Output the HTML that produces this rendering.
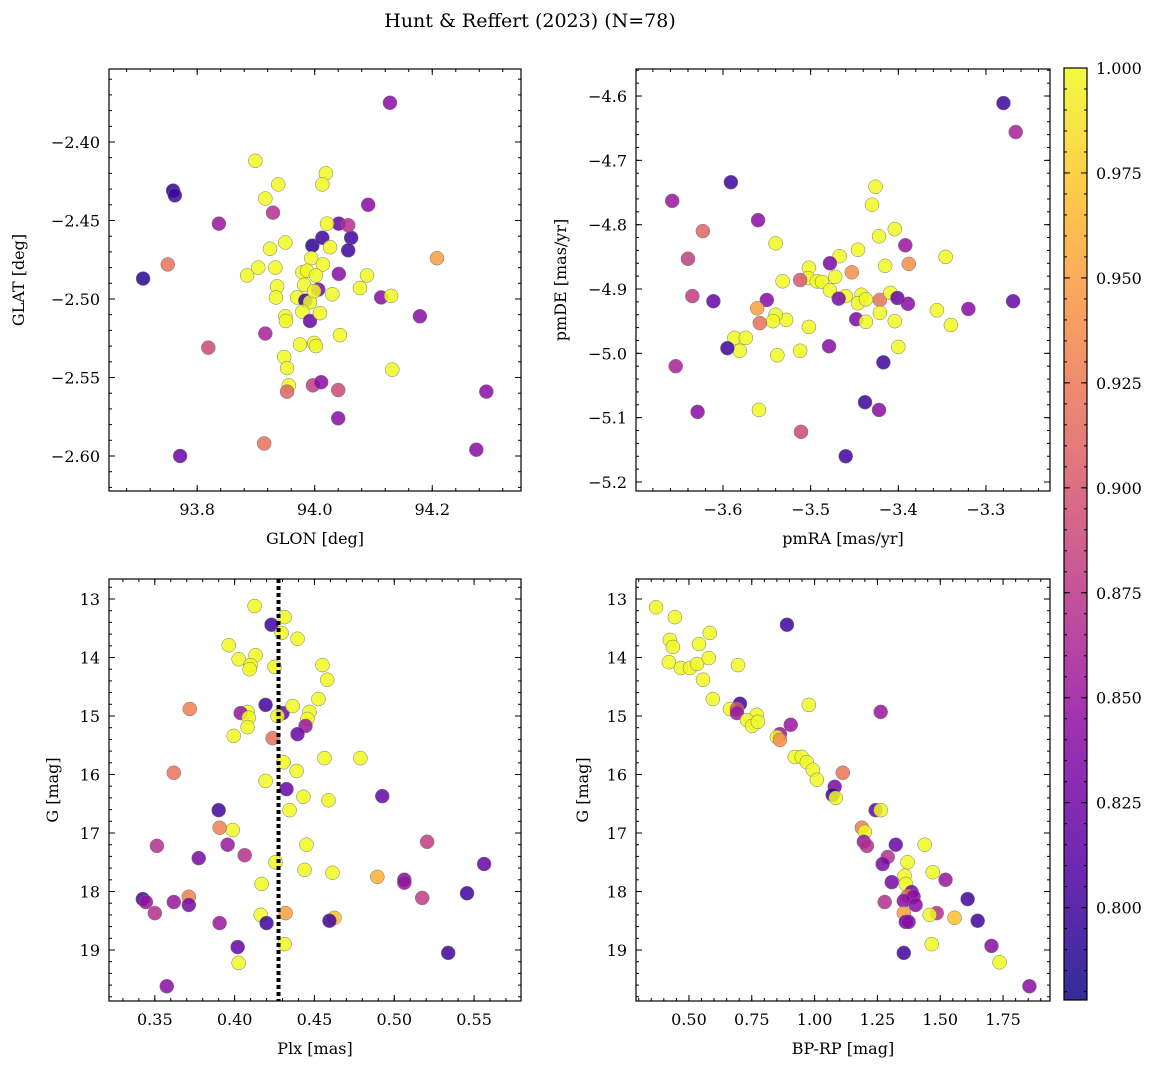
<!DOCTYPE html>
<html><head><meta charset="utf-8"><style>
html,body{margin:0;padding:0;background:#fff;}
svg{display:block;font-family:"DejaVu Serif","Liberation Serif",serif;}
</style></head><body>
<svg id="fig" width="1161" height="1068" viewBox="0 0 1161 1068" xmlns="http://www.w3.org/2000/svg">
<text x="530" y="27" font-size="19" text-anchor="middle">Hunt &amp; Reffert (2023) (N=78)</text>
</svg>
<script>
// ---- Panel 1: GLON / GLAT ----
const glonVals=[94.128,93.899,93.759,93.762,94.019,93.916,93.938,94.013,93.837,93.929,94.091,94.041,94.021,93.996,94.013,94.062,94.057,93.950,93.924,93.708,93.750,93.885,93.904,93.933,93.994,94.014,94.026,94.057,94.089,94.041,94.208,93.979,93.987,94.002,93.936,93.934,93.982,94.006,93.970,93.984,93.992,93.999,94.030,94.077,94.113,94.130,94.179,93.950,93.951,93.979,93.992,94.009,93.916,93.975,93.999,94.002,94.043,93.819,93.948,93.953,93.956,93.953,93.997,94.011,94.040,94.132,93.914,94.040,93.771,94.275,94.292];
const glatVals=[-2.375,-2.412,-2.431,-2.434,-2.420,-2.436,-2.427,-2.427,-2.452,-2.445,-2.440,-2.452,-2.452,-2.466,-2.461,-2.461,-2.469,-2.464,-2.468,-2.487,-2.478,-2.485,-2.480,-2.480,-2.474,-2.478,-2.467,-2.453,-2.485,-2.484,-2.474,-2.483,-2.482,-2.485,-2.492,-2.499,-2.491,-2.494,-2.499,-2.501,-2.502,-2.495,-2.497,-2.493,-2.499,-2.498,-2.511,-2.511,-2.514,-2.508,-2.514,-2.509,-2.522,-2.529,-2.528,-2.530,-2.523,-2.531,-2.537,-2.544,-2.555,-2.559,-2.555,-2.553,-2.558,-2.545,-2.592,-2.576,-2.600,-2.596,-2.559];
const probP1=[0.84,1,0.79,0.80,1,1,1,1,0.85,0.87,0.84,0.82,1,0.79,0.80,0.80,0.80,1,1,0.79,0.92,1,1,1,1,1,1,0.87,1,0.84,0.95,1,1,1,1,1,1,0.83,1,0.80,1,1,1,1,0.84,1,0.84,1,1,1,0.82,1,0.86,1,1,1,1,0.89,1,1,1,0.91,0.88,0.84,0.89,1,0.92,0.84,0.82,0.84,0.84];
// ---- Panel 2: pmRA / pmDE ----
const pmraVals=[-3.280,-3.266,-3.658,-3.591,-3.560,-3.623,-3.540,-3.426,-3.430,-3.404,-3.422,-3.446,-3.392,-3.346,-3.467,-3.478,-3.640,-3.415,-3.388,-3.502,-3.472,-3.453,-3.503,-3.532,-3.512,-3.493,-3.487,-3.635,-3.611,-3.550,-3.478,-3.460,-3.442,-3.421,-3.409,-3.401,-3.389,-3.446,-3.437,-3.468,-3.561,-3.528,-3.540,-3.543,-3.558,-3.502,-3.448,-3.437,-3.421,-3.404,-3.356,-3.340,-3.320,-3.269,-3.587,-3.574,-3.581,-3.595,-3.512,-3.538,-3.479,-3.400,-3.654,-3.417,-3.559,-3.629,-3.438,-3.422,-3.511,-3.460];
const pmdeVals=[-4.611,-4.656,-4.763,-4.734,-4.793,-4.810,-4.829,-4.741,-4.769,-4.807,-4.818,-4.839,-4.832,-4.850,-4.849,-4.860,-4.853,-4.864,-4.861,-4.867,-4.881,-4.874,-4.883,-4.888,-4.886,-4.888,-4.889,-4.911,-4.919,-4.917,-4.902,-4.911,-4.909,-4.917,-4.906,-4.914,-4.923,-4.922,-4.916,-4.915,-4.930,-4.948,-4.940,-4.950,-4.953,-4.959,-4.947,-4.951,-4.937,-4.950,-4.933,-4.956,-4.931,-4.919,-4.976,-4.976,-4.996,-4.992,-4.996,-5.003,-4.989,-4.990,-5.020,-5.014,-5.088,-5.091,-5.076,-5.088,-5.122,-5.160];
const probP2=[0.80,0.86,0.85,0.80,0.84,0.91,1,1,1,1,1,1,0.85,1,1,0.83,0.88,1,0.94,1,1,0.94,1,1,0.90,1,1,0.88,0.82,0.84,1,1,1,0.92,1,0.82,0.84,1,1,0.83,0.95,1,1,1,0.92,1,0.83,1,1,1,1,1,0.84,0.82,1,1,1,0.80,1,1,0.84,1,0.86,0.80,1,0.84,0.80,0.84,0.89,0.80];
// ---- Panel 3: Plx / G ----
const plxVals=[0.4125,0.4231,0.4313,0.4294,0.4394,0.3963,0.4131,0.4025,0.4100,0.4094,0.4250,0.4550,0.4580,0.4525,0.3719,0.4194,0.4081,0.4038,0.4088,0.4300,0.4363,0.4469,0.4456,0.4269,0.4444,0.4394,0.4081,0.3994,0.4238,0.4563,0.4788,0.3619,0.4388,0.4306,0.4194,0.4431,0.4588,0.4325,0.4344,0.4925,0.3900,0.3988,0.3906,0.4450,0.3513,0.3956,0.4063,0.5206,0.3775,0.4256,0.5563,0.4613,0.4438,0.4894,0.5063,0.5063,0.4169,0.3713,0.3425,0.3444,0.3619,0.3713,0.5175,0.5456,0.3500,0.4319,0.4163,0.4625,0.3906,0.4200,0.4594,0.4313,0.4019,0.4025,0.5338,0.3575];
const gmagP3=[13.12,13.44,13.31,13.58,13.68,13.79,13.96,14.03,14.13,14.20,14.16,14.13,14.38,14.71,14.88,14.81,14.93,14.95,15.03,14.95,14.83,14.93,15.05,15.00,15.17,15.31,15.19,15.34,15.38,15.72,15.72,15.97,15.94,15.79,16.11,16.38,16.44,16.25,16.61,16.37,16.61,16.95,16.91,17.20,17.22,17.20,17.38,17.15,17.43,17.50,17.53,17.68,17.63,17.75,17.80,17.85,17.87,18.09,18.13,18.18,18.18,18.23,18.11,18.03,18.37,18.37,18.40,18.45,18.54,18.54,18.50,18.90,18.95,19.22,19.05,19.62];
const probP3=[1,0.80,1,1,1,1,1,1,1,1,1,1,1,1,0.93,0.80,1,0.85,1,0.82,1,1,1,1,0.85,0.82,1,1,0.92,1,1,0.92,1,1,1,1,1,0.82,1,0.82,0.80,1,0.93,1,0.87,0.85,0.87,0.88,0.83,1,0.82,1,1,0.96,0.83,0.85,1,0.93,0.80,0.85,0.85,0.83,0.88,0.80,0.87,0.95,1,0.97,0.85,0.80,0.80,1,0.82,1,0.80,0.84];
const plxMedian=[0.4275];
// ---- Panel 4: BP-RP / G ----
const bprpVals=[0.369,0.444,0.583,0.890,0.424,0.436,0.540,0.420,0.468,0.504,0.532,0.579,0.556,0.695,0.595,0.703,0.663,0.691,0.691,0.770,0.731,0.751,0.774,0.977,1.263,0.905,0.862,0.850,0.862,0.921,0.949,0.969,0.993,1.009,1.112,1.080,1.072,1.084,1.243,1.263,1.188,1.200,1.196,1.208,1.323,1.438,1.291,1.271,1.370,1.470,1.521,1.358,1.307,1.363,1.386,1.370,1.394,1.609,1.279,1.355,1.402,1.486,1.458,1.355,1.557,1.649,1.363,1.374,1.466,1.704,1.355,1.736,1.855];
const gmagP4=[13.14,13.31,13.58,13.44,13.70,13.82,13.77,14.08,14.18,14.18,14.11,14.01,14.38,14.13,14.71,14.79,14.88,14.88,14.95,14.98,15.07,15.17,15.10,14.81,14.93,15.15,15.31,15.36,15.41,15.70,15.70,15.79,15.92,16.09,15.97,16.21,16.35,16.40,16.61,16.61,16.91,16.98,17.15,17.22,17.20,17.20,17.41,17.53,17.50,17.67,17.80,17.73,17.84,17.87,18.01,18.08,18.09,18.13,18.18,18.16,18.23,18.37,18.40,18.37,18.45,18.50,18.52,18.52,18.90,18.93,19.05,19.21,19.62];
const probP4=[1,1,1,0.80,1,1,1,1,1,1,1,1,1,1,1,0.80,1,0.90,0.85,1,1,1,1,1,0.85,0.85,0.85,1,0.94,1,1,1,1,1,0.92,0.83,0.80,1,0.82,1,0.93,1,0.85,0.87,0.82,1,0.87,0.83,1,1,0.85,1,0.83,1,0.83,0.92,0.84,0.80,0.87,0.84,0.84,0.87,1,0.95,0.97,0.80,0.82,0.84,1,0.84,0.80,1,0.84];
const cbTicks=[0.800,0.825,0.850,0.875,0.900,0.925,0.950,0.975,1.000];

const NS="http://www.w3.org/2000/svg";
const svg=document.getElementById('fig');
function mk(tag,attrs,parent){const e=document.createElementNS(NS,tag);for(const k in attrs)e.setAttribute(k,attrs[k]);(parent||svg).appendChild(e);return e;}
const VMIN=0.778,VMAX=1.0;
const plasma=[[13,8,135],[84,2,163],[139,10,165],[185,50,137],[219,92,104],[244,136,73],[254,188,43],[240,249,33]];
function cmap(v){let t=(v-VMIN)/(VMAX-VMIN);t=Math.max(0,Math.min(1,t));const s=t*(plasma.length-1);const i=Math.min(Math.floor(s),plasma.length-2);const f=s-i;const a=plasma[i],b=plasma[i+1];return `rgb(${Math.round(a[0]+(b[0]-a[0])*f)},${Math.round(a[1]+(b[1]-a[1])*f)},${Math.round(a[2]+(b[2]-a[2])*f)})`;}
function fmt(v,d){const s=Math.abs(v).toFixed(d);return (v<-1e-9?'\u2212':'')+s;}
function ticks(lo,hi,step){const out=[];const a=Math.ceil(lo/step-1e-6);const b=Math.floor(hi/step+1e-6);for(let i=a;i<=b;i++)out.push(+(i*step).toFixed(6));return out;}

function panel(cfg){
  const g=mk('g',{});
  
  
  const {L,T,R,B}=cfg;
  const xs=v=>L+(v-cfg.x0)/(cfg.x1-cfg.x0)*(R-L);
  const ys=cfg.yinv? (v=>T+(v-cfg.y0)/(cfg.y1-cfg.y0)*(B-T)) : (v=>B-(v-cfg.y0)/(cfg.y1-cfg.y0)*(B-T));
  const xlo=Math.min(cfg.x0,cfg.x1),xhi=Math.max(cfg.x0,cfg.x1),ylo=Math.min(cfg.y0,cfg.y1),yhi=Math.max(cfg.y0,cfg.y1);
  const pg=mk('g',{},g);
  
  
  for(let i=0;i<cfg.xv.length;i++){
    const c=mk('circle',{cx:xs(cfg.xv[i]),cy:ys(cfg.yv[i]),r:7,fill:cmap(cfg.pv[i]),'fill-opacity':0.85,stroke:'#777','stroke-width':0.5},pg);
    
    
  }
  if(cfg.vline!==undefined){
    const l=mk('line',{x1:xs(cfg.vline),x2:xs(cfg.vline),y1:T,y2:B,stroke:'#000','stroke-width':4,'stroke-dasharray':'4 3'},g);
    
    
  }
  const f=mk('rect',{x:L,y:T,width:R-L,height:B-T,fill:'none',stroke:'#000','stroke-width':1.2},g);
  
  
  for(const v of ticks(xlo,xhi,cfg.xminor)){const x=xs(v);mk('line',{x1:x,x2:x,y1:B,y2:B-3,stroke:'#000'},g);mk('line',{x1:x,x2:x,y1:T,y2:T+3,stroke:'#000'},g);}
  for(const v of ticks(ylo,yhi,cfg.yminor)){const y=ys(v);mk('line',{x1:L,x2:L+3,y1:y,y2:y,stroke:'#000'},g);mk('line',{x1:R,x2:R-3,y1:y,y2:y,stroke:'#000'},g);}
  for(const v of ticks(xlo,xhi,cfg.xmajor)){const x=xs(v);mk('line',{x1:x,x2:x,y1:B,y2:B-6,stroke:'#000'},g);mk('line',{x1:x,x2:x,y1:T,y2:T+6,stroke:'#000'},g);
    const t=mk('text',{x:x,y:B+24,'font-size':16,'text-anchor':'middle'},g);t.textContent=fmt(v,cfg.xd);
    
    }
  for(const v of ticks(ylo,yhi,cfg.ymajor)){const y=ys(v);mk('line',{x1:L,x2:L+6,y1:y,y2:y,stroke:'#000'},g);mk('line',{x1:R,x2:R-6,y1:y,y2:y,stroke:'#000'},g);
    const t=mk('text',{x:L-9,y:y+6,'font-size':16,'text-anchor':'end'},g);t.textContent=fmt(v,cfg.yd);
    
    }
  const xl=mk('text',{x:(L+R)/2,y:B+53,'font-size':16,'text-anchor':'middle'},g);xl.textContent=cfg.xlabel;
  
  
  const yx=cfg.ylx, yy=(T+B)/2;
  const yl=mk('text',{x:yx,y:yy,'font-size':16,'text-anchor':'middle',transform:`rotate(-90 ${yx} ${yy})`},g);yl.textContent=cfg.ylabel;
  
  
}

panel({name:'glon-glat-panel',L:109,T:69,R:521,B:491,x0:93.650,x1:94.351,y0:-2.6223,y1:-2.3535,xmajor:0.2,xminor:0.04,ymajor:0.05,yminor:0.01,xd:1,yd:2,xv:glonVals,yv:glatVals,pv:probP1,xlabel:'GLON [deg]',ylabel:'GLAT [deg]',ylx:24});
panel({name:'proper-motion-panel',L:636,T:69,R:1050,B:491,x0:-3.6993,x1:-3.2269,y0:-5.214,y1:-4.558,xmajor:0.1,xminor:0.02,ymajor:0.1,yminor:0.02,xd:1,yd:1,xv:pmraVals,yv:pmdeVals,pv:probP2,xlabel:'pmRA [mas/yr]',ylabel:'pmDE [mas/yr]',ylx:566});
panel({name:'parallax-mag-panel',L:109,T:579,R:521,B:1001,x0:0.3213,x1:0.5794,y0:12.658,y1:19.872,yinv:true,xmajor:0.05,xminor:0.01,ymajor:1,yminor:0.2,xd:2,yd:0,xv:plxVals,yv:gmagP3,pv:probP3,vline:plxMedian[0],xlabel:'Plx [mas]',ylabel:'G [mag]',ylx:58});
panel({name:'cmd-panel',L:636,T:579,R:1050,B:1001,x0:0.2893,x1:1.9368,y0:12.658,y1:19.872,yinv:true,xmajor:0.25,xminor:0.05,ymajor:1,yminor:0.2,xd:2,yd:0,xv:bprpVals,yv:gmagP4,pv:probP4,xlabel:'BP-RP [mag]',ylabel:'G [mag]',ylx:588});

(function(){
  const L=1064,R=1087,T=68,B=1000;
  const g=mk('g',{});
  
  
  const defs=mk('defs',{},g);
  const lg=mk('linearGradient',{id:'cbg',x1:0,y1:1,x2:0,y2:0},defs);
  for(let i=0;i<=20;i++){const v=VMIN+(VMAX-VMIN)*i/20;mk('stop',{offset:i/20,'stop-color':cmap(v),'stop-opacity':0.85},lg);}
  mk('rect',{x:L,y:T,width:R-L,height:B-T,fill:'url(#cbg)',stroke:'#000','stroke-width':1.2},g);
  const ys=v=>B-(v-VMIN)/(VMAX-VMIN)*(B-T);
  for(const v of ticks(VMIN,VMAX,0.005)){const y=ys(v);mk('line',{x1:R,x2:R-3,y1:y,y2:y,stroke:'#000'},g);mk('line',{x1:L,x2:L+3,y1:y,y2:y,stroke:'#000'},g);}
  for(const v of cbTicks){const y=ys(v);mk('line',{x1:R,x2:R-6,y1:y,y2:y,stroke:'#000'},g);mk('line',{x1:L,x2:L+6,y1:y,y2:y,stroke:'#000'},g);
    const t=mk('text',{x:R+9,y:y+6,'font-size':16},g);t.textContent=v.toFixed(3);
    
    }
})();
</script>
</body></html>
